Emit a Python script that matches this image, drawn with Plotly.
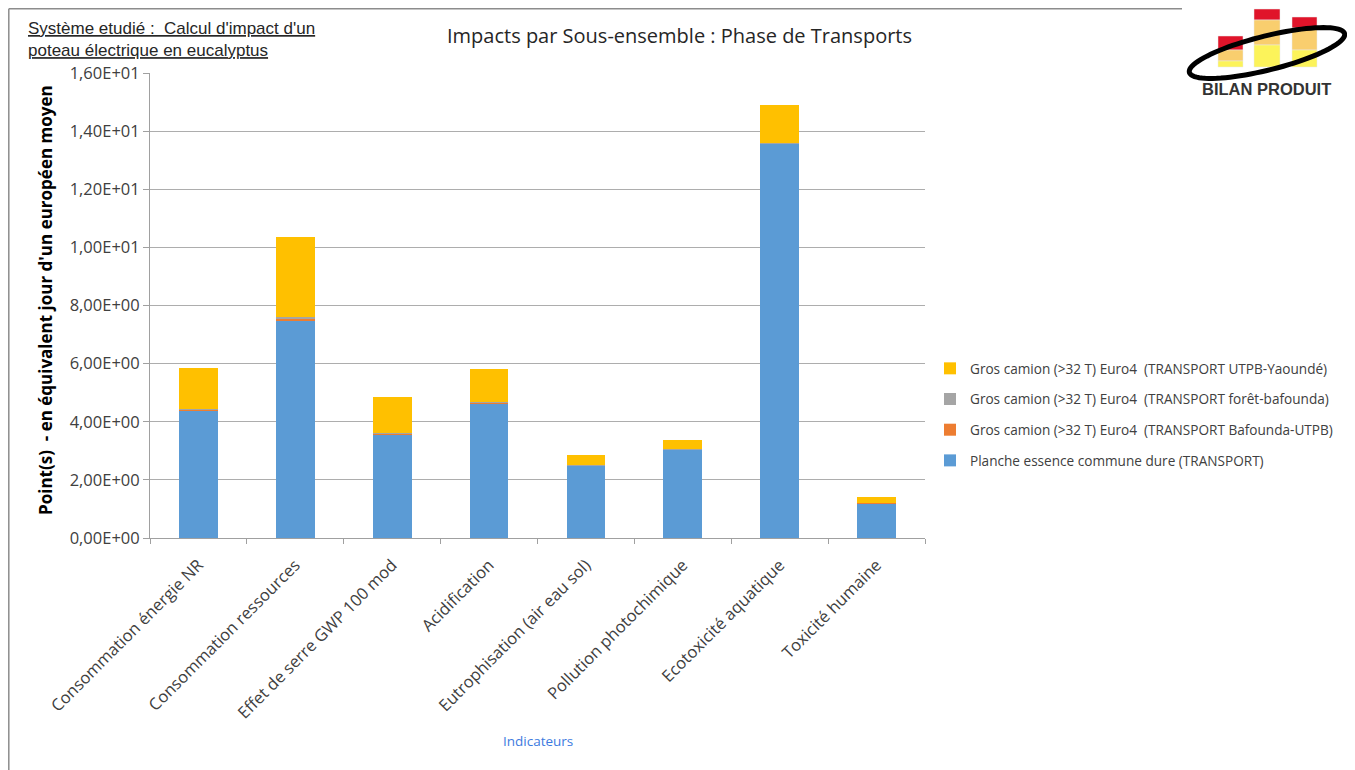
import numpy as np
import plotly.graph_objects as go

categories = [
    "Consommation énergie NR",
    "Consommation ressources",
    "Effet de serre GWP 100 mod",
    "Acidification",
    "Eutrophisation (air eau sol)",
    "Pollution photochimique",
    "Ecotoxicité aquatique",
    "Toxicité humaine",
]
planche = [4.37, 7.50, 3.55, 4.62, 2.50, 3.05, 13.58, 1.20]
bafounda_utpb = [0.05, 0.06, 0.05, 0.04, 0.01, 0.01, 0.01, 0.005]
foret_bafounda = [0.02, 0.04, 0.02, 0.02, 0.01, 0.01, 0.01, 0.005]
utpb_yaounde = [1.42, 2.75, 1.23, 1.12, 0.34, 0.29, 1.31, 0.20]

series_names = [
    "Planche essence commune dure (TRANSPORT)",
    "Gros camion (>32 T) Euro4  (TRANSPORT Bafounda-UTPB)",
    "Gros camion (>32 T) Euro4  (TRANSPORT forêt-bafounda)",
    "Gros camion (>32 T) Euro4  (TRANSPORT UTPB-Yaoundé)",
]
series_values = [planche, bafounda_utpb, foret_bafounda, utpb_yaounde]
series_colors = ["#5B9BD5", "#ED7D31", "#A5A5A5", "#FFC000"]

y_tickvals = [0, 2, 4, 6, 8, 10, 12, 14, 16]
y_ticktext = ["0,00E+00", "2,00E+00", "4,00E+00", "6,00E+00", "8,00E+00",
              "1,00E+01", "1,20E+01", "1,40E+01", "1,60E+01"]

# page coordinates (the page body adds an 8px offset)
OFF = 8
W, H = 1355 - OFF, 770 - OFF
L, R, T, B = 150, 925, 73, 538


def px(x):
    return (x - L) / (R - L)


def py(y):
    return (B - y) / (B - T)


FONT = "Open Sans, Lato, Carlito, Calibri"

fig = go.Figure()
n = len(series_names)
for i, (name, vals, col) in enumerate(zip(series_names, series_values, series_colors)):
    fig.add_trace(go.Bar(
        x=categories, y=vals, name=name,
        marker=dict(color=col, line=dict(width=0)),
        legendgroup=f"g{i}", legendrank=n - i,
    ))

shapes = []
# outer frame
shapes.append(dict(type="line", xref="paper", yref="paper",
                   x0=px(8.8), x1=px(1182), y0=py(8.8), y1=py(8.8),
                   line=dict(color="#8C8C8C", width=1.5)))
shapes.append(dict(type="line", xref="paper", yref="paper",
                   x0=px(8.8), x1=px(8.8), y0=py(8.8), y1=py(772),
                   line=dict(color="#8C8C8C", width=1.5)))

# logo bars
logo_bars = [
    (1218, 1243, [(36, 50, "#E0142A"), (50, 61, "#F9CE6E"), (61, 67, "#FCF35A")]),
    (1254, 1280, [(9, 20, "#E0142A"), (20, 45, "#F9CE6E"), (45, 67, "#FCF35A")]),
    (1292, 1317, [(17, 28, "#E0142A"), (28, 50, "#F9CE6E"), (50, 67, "#FCF35A")]),
]
for x0, x1, segs in logo_bars:
    for y0, y1, c in segs:
        shapes.append(dict(type="rect", xref="paper", yref="paper",
                           x0=px(x0), x1=px(x1), y0=py(y1), y1=py(y0),
                           fillcolor=c, line=dict(color="#E8E8E8", width=0.5)))
# logo ring
cx, cy, a, b, th = 1267, 53, 80, 17, np.deg2rad(14)
t = np.linspace(0, 2 * np.pi, 90)
xs = cx + a * np.cos(t) * np.cos(th) - b * np.sin(t) * np.sin(th)
ys = cy - (a * np.cos(t) * np.sin(th) + b * np.sin(t) * np.cos(th))
path = "M " + " L ".join(f"{px(x):.5f},{py(y):.5f}" for x, y in zip(xs, ys)) + " Z"
shapes.append(dict(type="path", xref="paper", yref="paper", path=path,
                   line=dict(color="black", width=5)))

annotations = [
    dict(text="<u>Système etudié :  Calcul d'impact d'un</u><br><u>poteau électrique en eucalyptus</u>",
         xref="paper", yref="paper", x=px(26), y=py(17), xanchor="left", yanchor="top",
         align="left", showarrow=False,
         font=dict(family="Liberation Sans, Arial", size=17, color="#262626")),
    dict(text="Impacts par Sous-ensemble : Phase de Transports",
         xref="paper", yref="paper", x=px(679), y=py(36), xanchor="center", yanchor="middle",
         showarrow=False, font=dict(family=FONT, size=20, color="#262626")),
    dict(text="<b>Point(s)  - en équivalent jour d'un européen moyen</b>",
         xref="paper", yref="paper", x=px(45), y=py(300), textangle=-90,
         xanchor="center", yanchor="middle", showarrow=False,
         font=dict(family=FONT, size=17, color="#000000")),
    dict(text="Indicateurs", xref="paper", yref="paper", x=px(538), y=py(741),
         xanchor="center", yanchor="middle", showarrow=False,
         font=dict(family=FONT, size=13.5, color="#3D7BE0")),
    dict(text="<b>BILAN PRODUIT</b>", xref="paper", yref="paper", x=px(1266), y=py(89),
         xanchor="center", yanchor="middle", showarrow=False,
         font=dict(family="Liberation Sans, Arial", size=16.5, color="#333333")),
]

fig.update_layout(
    width=W, height=H, autosize=False,
    margin=dict(l=L - OFF, r=(W + OFF) - R, t=T - OFF, b=(H + OFF) - B),
    paper_bgcolor="white", plot_bgcolor="white",
    barmode="stack", bargap=0.6,
    showlegend=True,
    legend=dict(x=px(930), y=py(353), xanchor="left", yanchor="top",
                traceorder="grouped", tracegroupgap=10,
                font=dict(family=FONT, size=13.6, color="#404040"),
                itemwidth=30, bgcolor="rgba(0,0,0,0)"),
    font=dict(family=FONT, color="#404040"),
    xaxis=dict(type="category", tickangle=-45, tickson="boundaries",
               ticks="outside", ticklen=5, tickcolor="#A0A0A0",
               showline=True, linecolor="#A0A0A0", linewidth=1,
               ticklabelstandoff=10,
               tickfont=dict(family=FONT, size=16.5, color="#404040"),
               showgrid=False),
    yaxis=dict(range=[0, 16], tickvals=y_tickvals, ticktext=y_ticktext,
               ticks="outside", ticklen=6, tickcolor="#A0A0A0",
               showline=True, linecolor="#A0A0A0", linewidth=1,
               showgrid=True, gridcolor="#ADADAD", gridwidth=1,
               zeroline=False,
               tickfont=dict(family=FONT, size=16.5, color="#404040")),
    shapes=shapes,
    annotations=annotations,
)

fig.write_html("out.html")
